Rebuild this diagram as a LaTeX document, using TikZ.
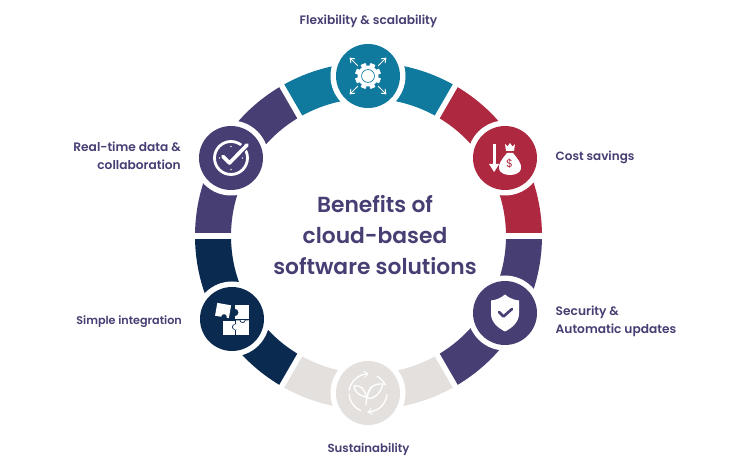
\documentclass[tikz,border=0pt]{standalone}
\usepackage{fontspec}
\setmainfont{Poppins}[BoldFont={Poppins SemiBold}]
\usetikzlibrary{arrows.meta,calc}
\definecolor{cteal}{HTML}{0F7A9E}
\definecolor{cred}{HTML}{AE2840}
\definecolor{cpurple}{HTML}{473E73}
\definecolor{cnavy}{HTML}{0B2A50}
\definecolor{cbeige}{HTML}{E4E0DE}
\newcommand{\ringseg}[3]{\fill[#1] (#2:173.5) arc[start angle=#2,end angle=#3,radius=173.5] -- (#3:137.5) arc[start angle=#3,end angle=#2,radius=137.5] -- cycle;}
\tikzset{
  x=1pt,y=1pt,
  halo/.style={circle,fill=white,minimum size=75pt,inner sep=0pt},
  disc/.style={circle,fill=#1,minimum size=64pt,inner sep=0pt},
  lab/.style 2 args={font=\fontsize{#2}{18}\selectfont\bfseries,text=cpurple,inner sep=0pt,align=#1},
  title/.style={font=\fontsize{21.8}{31}\selectfont\bfseries,text=cpurple,inner sep=0pt,align=center},
  thinw/.style={draw=white,line width=0.9pt,line cap=round,line join=round},
  barb/.style={-{Straight Barb[length=4pt,width=6pt,line width=0.9pt]}}
}
\begin{document}
\begin{tikzpicture}
\useasboundingbox (0,0) rectangle (750,469);
\fill[white] (0,0) rectangle (750,469);
\begin{scope}[shift={(368.5,233)}]
\ringseg{cteal}{60}{120}
\ringseg{cred}{0}{60}
\ringseg{cpurple}{-60}{0}
\ringseg{cbeige}{-120}{-60}
\ringseg{cnavy}{-180}{-120}
\ringseg{cpurple}{120}{180}
\foreach \a in {0,60,120,180,240,300}{\draw[white,line width=5.5pt] (\a:130) -- (\a:180);}
\end{scope}

% discs
\foreach \n/\x/\y/\c in {flex/368/393/cteal,cost/505/311/cred,secu/505/156/cpurple,sust/368/76/cbeige,simp/232/150/cnavy,real/231/311/cpurple}{
  \node[halo] at (\x,\y) {};
  \node[disc=\c] (\n) at (\x,\y) {};
}

% flexibility icon
\begin{scope}[shift={(flex.center)}]
  \foreach \a in {0,45,...,315}{\fill[white,rotate=\a+22.5] (-2.6,9) rectangle (2.6,13);}
  \fill[white] (0,0) circle (10.5);
  \fill[cteal] (0,0) circle (6.8);
  \fill[white] (0,0) circle (6);
  \foreach \a in {45,135,225,315}{\draw[thinw,barb] (\a:14.5) -- (\a:26);}
\end{scope}

% cost icon
\begin{scope}[shift={(cost.center)}]
  \fill[white] (-12.3,14) rectangle (-9.4,-6);
  \fill[white] (-16,-6) -- (-5.8,-6) -- (-10.85,-14) -- cycle;
  \fill[white] (2,5) .. controls (-3,-1) and (-7,-6) .. (-6,-11) .. controls (-5,-15) and (0,-17) .. (5,-17) .. controls (10,-17) and (15,-15) .. (16,-11) .. controls (17,-6) and (13,-1) .. (8,5) -- cycle;
  \fill[white] (1,7) -- (9,7) -- (10,14) -- (7.5,11.5) -- (5,15) -- (2.5,11.5) -- (0,14) -- cycle;
  \node[font=\fontsize{11}{11}\selectfont,text=cred,inner sep=0pt] (costd) at (4.5,-5.5) {\$};
\end{scope}

% security icon
\begin{scope}[shift={(secu.center)}]
  \fill[white] (0,18.5) .. controls (4,15) and (9,13) .. (14,12.5) -- (14,-1) .. controls (14,-9) and (7,-15) .. (0,-18.5) .. controls (-7,-15) and (-14,-9) .. (-14,-1) -- (-14,12.5) .. controls (-9,13) and (-4,15) .. (0,18.5) -- cycle;
  \draw[cpurple,line width=2.6pt,line cap=round,line join=round] (-6,1) -- (-1.5,-3.5) -- (7,4);
\end{scope}

% sustainability icon
\begin{scope}[shift={(sust.center)},thinw/.append style={line width=1.3pt}]
  \draw[thinw] (105:19) arc[start angle=105,end angle=172,radius=19];
  \draw[thinw] (183:19) arc[start angle=183,end angle=248,radius=19];
  \draw[thinw] (62:19) arc[start angle=62,end angle=25,radius=19];
  \draw[thinw] (-5:19) arc[start angle=-5,end angle=-66,radius=19];
  \draw[thinw,barb] (105:19) -- (88:19.5);
  \draw[thinw,barb] (-66:19) -- (-92:19.5);
  \draw[thinw] (-2,-12) .. controls (-2,-5) and (0,0) .. (3,6);
  \draw[thinw] (-2,-4) .. controls (-9,-3) and (-14,2) .. (-14,7) .. controls (-8,8) and (-3,5) .. (-2,-4);
  \draw[thinw] (-1,-5) .. controls (3,-7) and (12,-3) .. (15,9) .. controls (6,10) and (0,5) .. (-1,-5);
\end{scope}

% integration icon
\begin{scope}[shift={(simp.center)}]
  \fill[white,rotate around={-10:(-9,8)}] (-16,2) rectangle (-2,15);
  \fill[cnavy] (-8,2) circle (2.8);
  \fill[white] (2.8,-0.5) rectangle (16.5,14);
  \fill[cnavy] (2.8,6.5) circle (3.6);
  \fill[white] (-9.5,-16.5) rectangle (2.5,-2);
  \fill[white] (3.5,-16.5) rectangle (16.5,-1.2);
  \fill[cnavy] (3,-8) circle (3);
  \fill[white] (3.8,-8) circle (2.8);
  \draw[cnavy,line width=0.7pt] (3,-12) -- (3,-16.5);
  \draw[cnavy,line width=0.7pt] (3,-4.5) -- (3,-2);
  \draw[cnavy,line width=0.7pt] (3,-1) -- (8,-1) arc[start angle=180,end angle=360,radius=2.6] -- (16.5,-1);
\end{scope}

% real-time icon
\begin{scope}[shift={(real.center)}]
  \draw[white,line width=2.8pt] (0,0) circle (16.5);
  \foreach \a in {90,180,270,0}{\fill[white!80!cpurple] (\a:11.5) circle (0.8);}
  \draw[cpurple,line width=7pt,line cap=butt,line join=miter] (-8,2) -- (-1.5,-5) -- (17,15);
  \draw[white,line width=3.6pt,line cap=round,line join=round] (-8,1.5) -- (-1.5,-5) -- (16,13);
\end{scope}

% labels
\node[lab={center}{12.2}] (lflex) at (368.5,448) {Flexibility \& scalability};
\node[lab={left}{12}] [anchor=west] (lcost) at (555.5,312) {Cost savings};
\node[lab={left}{12.2}] [anchor=west] (lsecu) at (555.5,148) {Security \&\\Automatic updates};
\node[lab={center}{11.7}] (lsust) at (368.5,20) {Sustainability};
\node[lab={right}{11.2}] [anchor=east] (lsimp) at (182,147) {Simple integration};
\node[lab={right}{12.2}] [anchor=east] (lreal) at (181,313) {Real-time data \&\\collaboration};
\node[title] (ttl) at (375,234) {Benefits of\\cloud-based\\software solutions};
\end{tikzpicture}
\end{document}
